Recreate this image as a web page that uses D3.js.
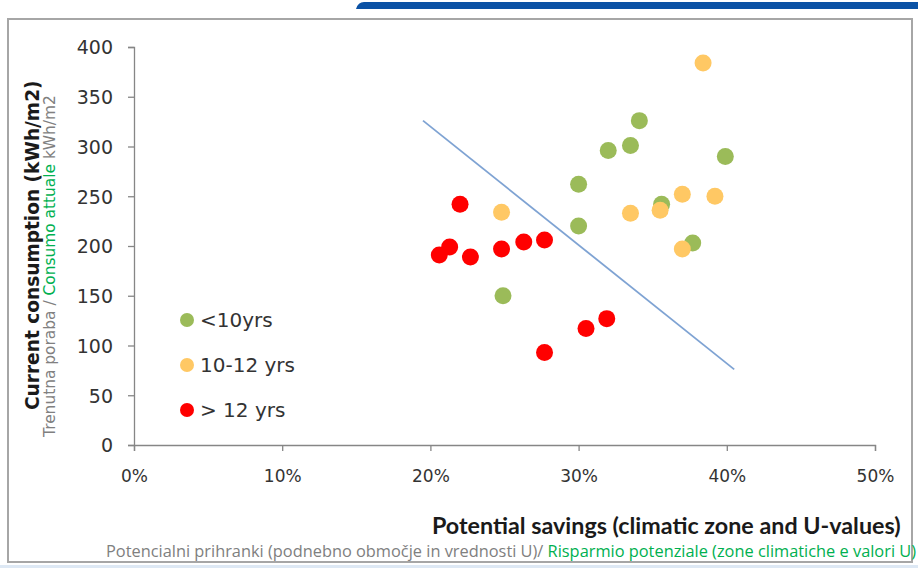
<!DOCTYPE html>
<html>
<head>
<meta charset="utf-8">
<script src="https://cdn.jsdelivr.net/npm/d3@7"></script>
<style>
  html, body { margin: 0; padding: 0; background: #fff; }
  svg { display: block; }
</style>
</head>
<body>
<svg id="chart" width="918" height="569"></svg>
<script>
// ---- data ----
const seriesNames = ["<10yrs", "10-12 yrs", "> 12 yrs"];
const seriesColors = ["#9BBB59", "#FFC864", "#FF0000"];
const lessThan10 = [
  [30.0, 262], [30.0, 220], [32.0, 296], [33.5, 301], [34.1, 326],
  [39.9, 290], [35.6, 242], [37.7, 203], [24.9, 150]
];
const from10to12 = [
  [38.4, 384], [24.8, 234], [37.0, 252], [39.2, 250], [35.5, 236],
  [33.5, 233], [37.0, 197]
];
const moreThan12 = [
  [22.0, 242], [21.3, 199], [20.6, 191], [22.7, 189], [24.8, 197],
  [26.3, 204], [27.7, 206], [31.9, 127], [30.5, 117], [27.7, 93]
];
const trendLine = [[19.5, 326], [40.5, 76]];
const xTicks = [0, 10, 20, 30, 40, 50];
const yTicks = [0, 50, 100, 150, 200, 250, 300, 350, 400];

const yTitleMain = "Current consumption  (kWh/m2)";
const yTitleSub = [["Trenutna poraba / ", "#808080"], ["Consumo attuale", "#00B050"], [" kWh/m2", "#808080"]];
const xTitleMain = "Potential savings (climatic zone and U-values)";
const xTitleSub = [["Potencialni prihranki (podnebno območje in vrednosti U)/ ", "#808080"], ["Risparmio potenziale (zone climatiche e valori U)", "#00B050"]];

// ---- layout ----
const svg = d3.select("#chart");
const FONT = "'DejaVu Sans', Verdana, sans-serif";
const x = d3.scaleLinear().domain([0, 50]).range([134, 875]);
const y = d3.scaleLinear().domain([0, 400]).range([445, 47]);

// top blue bar
svg.append("path")
  .attr("d", "M356,9 Q358,2 364,2 L918,2 L918,9 Z")
  .attr("fill", "#0B52A5");

// outer frame
svg.append("rect")
  .attr("x", 8).attr("y", 19).attr("width", 904).attr("height", 543)
  .attr("fill", "none").attr("stroke", "#A6A6A6").attr("stroke-width", 2);

// bottom light line
svg.append("rect").attr("x", 0).attr("y", 565).attr("width", 918).attr("height", 3)
  .attr("fill", "#DDE8F4");

// axes
const xAxis = d3.axisBottom(x).tickValues(xTicks).tickFormat(d => d + "%").tickSize(6).tickPadding(18);
const yAxis = d3.axisLeft(y).tickValues(yTicks).tickSize(6).tickPadding(15);

const gx = svg.append("g").attr("transform", "translate(0,445)").call(xAxis);
const gy = svg.append("g").attr("transform", "translate(134,0)").call(yAxis);
[gx, gy].forEach(g => {
  g.select(".domain").attr("stroke", "#868686").attr("stroke-width", 1.3);
  g.selectAll(".tick line").attr("stroke", "#868686").attr("stroke-width", 1.3);
  g.selectAll(".tick text").attr("fill", "#333").attr("font-family", FONT);
});
gx.selectAll(".tick text").attr("font-size", 17).attr("dy", "0.75em");
gy.selectAll(".tick text").attr("font-size", 19).attr("dy", "0.36em");

// trend line
svg.append("path")
  .datum(trendLine)
  .attr("d", d3.line().x(d => x(d[0])).y(d => y(d[1])))
  .attr("stroke", "#7FA3D3").attr("stroke-width", 1.8).attr("fill", "none");

// points
const allSeries = [lessThan10, from10to12, moreThan12];
allSeries.forEach((data, i) => {
  svg.append("g").selectAll("circle").data(data).enter().append("circle")
    .attr("cx", d => x(d[0])).attr("cy", d => y(d[1])).attr("r", 8.5)
    .attr("fill", seriesColors[i]);
});

// legend
const legend = svg.append("g");
seriesNames.forEach((name, i) => {
  const ly = 320 + i * 45;
  legend.append("circle").attr("cx", 187).attr("cy", ly).attr("r", 7).attr("fill", seriesColors[i]);
  legend.append("text").attr("x", 200).attr("y", ly).attr("dy", "0.37em")
    .attr("font-family", FONT).attr("font-size", 20).attr("fill", "#333").text(name);
});

// helper to fit text width
function fitWidth(sel, target) {
  const w = sel.node().getComputedTextLength();
  const fs = parseFloat(sel.attr("font-size"));
  sel.attr("font-size", fs * target / w);
}

// y titles
const yt1 = svg.append("text")
  .attr("transform", "translate(39,410) rotate(-90)")
  .attr("font-family", FONT).attr("font-weight", "bold").attr("font-size", 18)
  .attr("fill", "#1a1a1a").text(yTitleMain);
fitWidth(yt1, 330);

const yt2 = svg.append("text")
  .attr("transform", "translate(55,437) rotate(-90)")
  .attr("font-family", FONT).attr("font-size", 15);
yTitleSub.forEach(([t, c]) => yt2.append("tspan").attr("fill", c).text(t));
fitWidth(yt2, 342);

// x titles
const xt1 = svg.append("text")
  .attr("x", 432).attr("y", 534)
  .attr("font-family", "Lato, sans-serif").attr("font-weight", "bold").attr("font-size", 19)
  .attr("fill", "#1a1a1a").text(xTitleMain);
fitWidth(xt1, 469);

const xt2 = svg.append("text")
  .attr("x", 106).attr("y", 557)
  .attr("font-family", "'Open Sans', sans-serif").attr("font-size", 15);
xTitleSub.forEach(([t, c]) => xt2.append("tspan").attr("fill", c).text(t));
fitWidth(xt2, 811);
</script>
</body>
</html>
